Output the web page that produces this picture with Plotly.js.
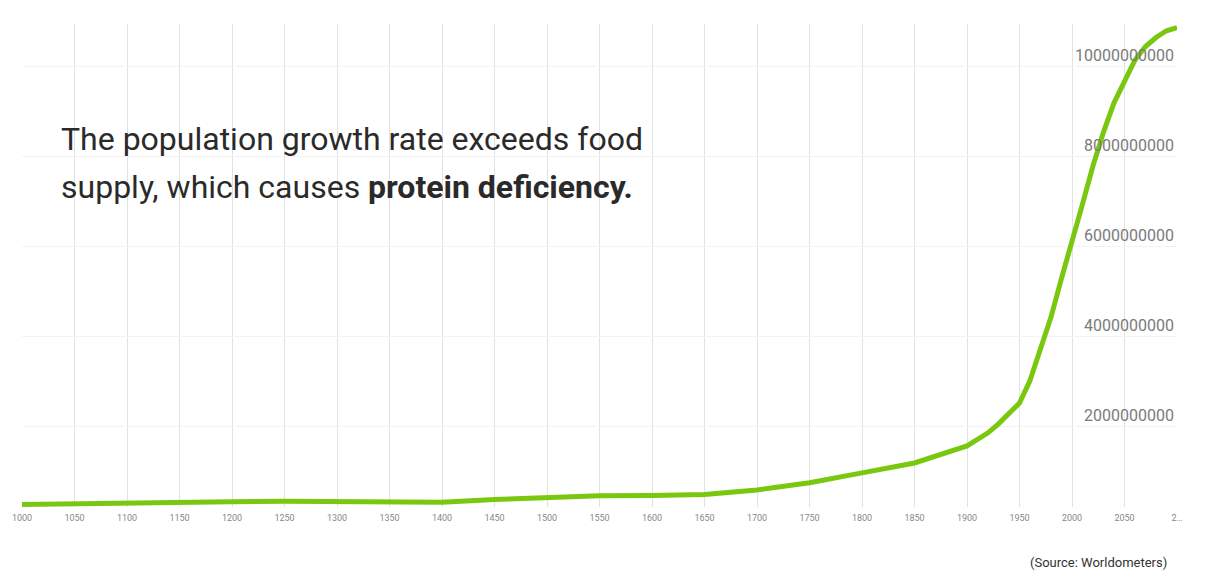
<!DOCTYPE html>
<html>
<head>
<meta charset="utf-8">
<script src="https://cdn.plot.ly/plotly-3.0.1.min.js"></script>
<style>
html,body{margin:0;padding:0;background:#fff;}
#chart{width:1217px;height:575px;}
</style>
</head>
<body>
<div id="chart"></div>
<script>
// Years and world population
const years = [1000,1050,1100,1150,1200,1250,1300,1350,1400,1450,1500,1550,1600,1650,1700,1750,1800,1850,1900,1910,1920,1930,1940,1950,1960,1970,1980,1990,2000,2010,2020,2030,2040,2050,2060,2070,2080,2090,2100];
const population = [0.28e9,0.30e9,0.32e9,0.33e9,0.34e9,0.35e9,0.35e9,0.34e9,0.33e9,0.39e9,0.44e9,0.47e9,0.48e9,0.50e9,0.60e9,0.76e9,0.98e9,1.2e9,1.58e9,1.72e9,1.87e9,2.07e9,2.3e9,2.53e9,3.03e9,3.7e9,4.44e9,5.3e9,6.1e9,6.95e9,7.8e9,8.55e9,9.2e9,9.7e9,10.15e9,10.45e9,10.65e9,10.8e9,10.87e9];

const xTickVals = [1000,1050,1100,1150,1200,1250,1300,1350,1400,1450,1500,1550,1600,1650,1700,1750,1800,1850,1900,1950,2000,2050,2100];
const xTickText = ["1000","1050","1100","1150","1200","1250","1300","1350","1400","1450","1500","1550","1600","1650","1700","1750","1800","1850","1900","1950","2000","2050","2…"];
const yTickVals = [2e9,4e9,6e9,8e9,10e9];
const yTickText = ["2000000000","4000000000","6000000000","8000000000","10000000000"];

const headline1 = "The population growth rate exceeds food";
const headline2 = "supply, which causes <b>protein deficiency.</b>";
const sourceText = "(Source: Worldometers)";

const W = 1217, H = 575;
const L = 22, R = 40, T = 24, B = 68;
const pw = W - L - R, ph = H - T - B;
const px2x = x => (x - L) / pw;
const py2y = y => (H - B - y) / ph;

const trace = {
  x: years,
  y: population,
  type: 'scatter',
  mode: 'lines',
  line: {color: '#7ac70f', width: 5},
  hoverinfo: 'skip'
};

const yLabelAnnotations = yTickVals.map((v, i) => ({
  text: yTickText[i], xref: 'paper', yref: 'y', x: 1, y: v,
  xanchor: 'right', yanchor: 'middle', xshift: -1, yshift: 11,
  showarrow: false,
  font: {family: 'Roboto, sans-serif', size: 16, color: '#7a7a7a'}
}));

const layout = {
  width: W, height: H,
  margin: {l: L, r: R, t: T, b: B, pad: 0},
  paper_bgcolor: '#ffffff',
  plot_bgcolor: '#ffffff',
  showlegend: false,
  font: {family: 'Roboto, sans-serif', color: '#222'},
  xaxis: {
    range: [1000, 2100],
    tickmode: 'array',
    tickvals: xTickVals,
    ticktext: xTickText,
    showgrid: true,
    gridcolor: '#e2e2e2',
    gridwidth: 1,
    zeroline: false,
    showline: false,
    ticks: '',
    tickfont: {family: 'Roboto, sans-serif', size: 9, color: '#888'},
    ticklabelstandoff: 4
  },
  yaxis: {
    range: [0.222e9, 10.95e9],
    tickmode: 'array',
    tickvals: yTickVals,
    showticklabels: false,
    showgrid: true,
    gridcolor: '#f3f3f3',
    gridwidth: 1,
    zeroline: false,
    showline: false,
    ticks: ''
  },
  annotations: [
    {text: headline1, xref: 'paper', yref: 'paper', x: px2x(59), y: py2y(139.5),
     xanchor: 'left', yanchor: 'middle', showarrow: false, align: 'left',
     font: {family: 'Roboto, sans-serif', size: 32, color: '#2a2a2a'}},
    {text: headline2, xref: 'paper', yref: 'paper', x: px2x(59), y: py2y(186.5),
     xanchor: 'left', yanchor: 'middle', showarrow: false, align: 'left',
     font: {family: 'Roboto, sans-serif', size: 32, color: '#2a2a2a'}},
    {text: sourceText, xref: 'paper', yref: 'paper', x: px2x(1169), y: py2y(562),
     xanchor: 'right', yanchor: 'middle', showarrow: false,
     font: {family: 'Roboto, sans-serif', size: 13, color: '#333'}}
  ].concat(yLabelAnnotations)
};

Plotly.newPlot('chart', [trace], layout, {displayModeBar: false, staticPlot: true});
</script>
</body>
</html>
